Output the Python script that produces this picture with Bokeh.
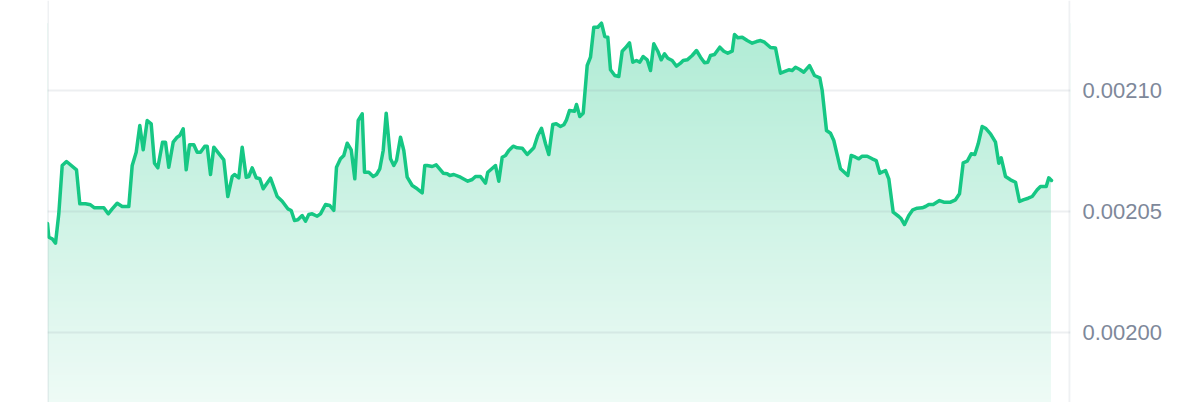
import numpy as np
from bokeh.plotting import figure
from bokeh.models import Range1d, FixedTicker, PrintfTickFormatter, Span
from bokeh.embed import file_html
from bokeh.resources import INLINE

# time offset (minutes from start of the window)
minutes = [
    0, 1.3, 4.7, 8, 11.3, 14.7, 19, 29, 32.3, 38, 43, 47, 56.3, 60.7, 64.7, 69.7, 74.7, 81.3, 84.7, 88.7,
    92.3, 95.7, 99.7, 103.7, 107, 110.3, 115, 118, 121.3, 125.7, 129.7, 132.3, 135.7, 138.7, 142, 146.3,
    149.7, 153, 157.3, 159.7, 163, 166.3,
    176.3, 180.3, 184.7, 187, 191.3, 194.7, 198.7, 201.3, 204.7, 208.7, 212.3, 215.7, 223, 229.7, 234.7,
    240.3, 243.7, 247, 250.3, 254.7, 258, 261.3, 264.7, 269.7, 273, 278, 282.3, 286.3, 289, 293, 296.3,
    299.7, 303.7, 307.3, 310.7, 314.7, 317, 321.3, 325.7, 329, 332.3, 335.7, 338.7,
    343, 346.3, 349, 353, 356.3, 359.7, 364.7, 369.7, 374.7, 377.3, 379.7, 384.7, 388.7, 395.7, 399.7,
    402.3, 406.3, 413, 420.3, 424.7, 428, 433, 438, 440.3, 448, 451.3, 454.7, 458, 461.3, 465.7, 469.7,
    474.7, 479.7, 486.3, 490.3, 494, 498, 501.3, 505.3, 508.7, 513, 516.3, 519, 522,
    527, 529, 532.3, 535.7, 539.7, 543, 546.3, 550.3, 554, 557.3, 560.3, 563, 567.3, 571.3, 574.7, 578,
    582, 585.3, 589, 592.3, 595.7, 599.7, 603, 606.3, 610.3, 613.7, 617, 620.3, 624.7, 629, 633, 635.7,
    639.7, 644.7, 649, 653, 657, 660.3, 663, 667, 672.3, 676.3, 680.3, 684.7, 687, 690.3, 694.7, 699.7,
    704.7, 709, 713, 717, 723, 728,
    733, 738, 741.3, 744.7, 748, 752.3, 756.3, 762, 767, 772.3, 774.7, 779, 783, 786.3, 793, 800.3, 803.7,
    808, 811.3, 814.7, 819.7, 824.7, 828.7, 832.3, 838, 841.3,
    845.7, 851.3, 853.7, 857, 861.3, 865.3, 869.7, 874.7, 878, 881.3, 885.7, 892, 896.3, 903, 908, 912,
    915.7, 919.7, 923.7, 927.3, 930.7, 934.7, 938, 943, 948, 951.3, 953.7, 958, 963, 968, 972, 975.7,
    980.7, 984.7, 989.7, 993, 998.7, 1001.3, 1004,
]

price = [
    0.00204493, 0.00203925, 0.00203859, 0.00203677, 0.00204894, 0.00206894, 0.00207060, 0.00206716,
    0.00205309, 0.00205309, 0.00205267, 0.00205143, 0.00205143, 0.00204894, 0.00205101, 0.00205333,
    0.00205197, 0.00205197, 0.00206894, 0.00207445, 0.00208551, 0.00207545, 0.00208758, 0.00208621,
    0.00206990, 0.00206799, 0.00207859, 0.00207859, 0.00206824, 0.00207859, 0.00208066, 0.00208137,
    0.00208414, 0.00206716, 0.00207752, 0.00207752, 0.00207445, 0.00207445, 0.00207694, 0.00207694,
    0.00206522, 0.00207652,
    0.00207130, 0.00205611, 0.00206439, 0.00206522, 0.00206385, 0.00207652, 0.00206410, 0.00206439,
    0.00206799, 0.00206385, 0.00206344, 0.00205930, 0.00206369, 0.00205611, 0.00205416, 0.00205101,
    0.00205031, 0.00204617, 0.00204646, 0.00204824, 0.00204588, 0.00204865, 0.00204894, 0.00204795,
    0.00204894, 0.00205280, 0.00205238, 0.00205031, 0.00206824, 0.00207172, 0.00207309, 0.00207818,
    0.00207545, 0.00206344, 0.00208758, 0.00209035, 0.00206617, 0.00206617, 0.00206439, 0.00206522,
    0.00206758, 0.00207516, 0.00209060,
    0.00207172, 0.00206894, 0.00207101, 0.00208066, 0.00207516, 0.00206410, 0.00206066, 0.00205930,
    0.00205764, 0.00206894, 0.00206894, 0.00206853, 0.00206923, 0.00206576, 0.00206551, 0.00206480,
    0.00206522, 0.00206410, 0.00206244, 0.00206315, 0.00206439, 0.00206439, 0.00206161, 0.00206617,
    0.00206894, 0.00206244, 0.00207238, 0.00207309, 0.00207516, 0.00207694, 0.00207627, 0.00207611,
    0.00207350, 0.00207627, 0.00208137, 0.00208439, 0.00207793, 0.00207350, 0.00208592, 0.00208621,
    0.00208509, 0.00208580, 0.00208787, 0.00209172,
    0.00209143, 0.00209420, 0.00208923, 0.00209060, 0.00211035, 0.00211379, 0.00212621, 0.00212621,
    0.00212787, 0.00212236, 0.00212207, 0.00210857, 0.00210621, 0.00210580, 0.00211627, 0.00211768,
    0.00211975, 0.00211172, 0.00211242, 0.00211172, 0.00211408, 0.00211271, 0.00210828, 0.00211934,
    0.00211627, 0.00211271, 0.00211520, 0.00211338, 0.00211242, 0.00211006, 0.00211130, 0.00211242,
    0.00211271, 0.00211449, 0.00211656, 0.00211379, 0.00211147, 0.00211172, 0.00211449, 0.00211491,
    0.00211793, 0.00211627, 0.00211545, 0.00211627, 0.00212319, 0.00212182, 0.00212207, 0.00212070,
    0.00211959, 0.00212029, 0.00212070, 0.00212000, 0.00211781, 0.00211760,
    0.00210716, 0.00210799, 0.00210857, 0.00210828, 0.00210965, 0.00210870, 0.00210758, 0.00211035,
    0.00210621, 0.00210526, 0.00210000, 0.00208344, 0.00208232, 0.00207930, 0.00206758, 0.00206480,
    0.00207309, 0.00207238, 0.00207172, 0.00207280, 0.00207280, 0.00207172, 0.00207101, 0.00206576,
    0.00206687, 0.00206344,
    0.00204961, 0.00204783, 0.00204687, 0.00204451, 0.00204824, 0.00205060, 0.00205126, 0.00205143,
    0.00205197, 0.00205280, 0.00205280, 0.00205445, 0.00205375, 0.00205375, 0.00205474, 0.00205723,
    0.00207006, 0.00207072, 0.00207379, 0.00207350, 0.00207793, 0.00208509, 0.00208439, 0.00208207,
    0.00207859, 0.00206990, 0.00207213, 0.00206439, 0.00206302, 0.00206203, 0.00205404, 0.00205474,
    0.00205540, 0.00205611, 0.00205888, 0.00206025, 0.00206025, 0.00206385, 0.00206273,
]

tick_values = [0.00200, 0.00205, 0.00210]

X_END = 1023
Y_LOW = 0.00197081
Y_HIGH = 0.00213727

GREEN = (22, 199, 132)

p = figure(
    width=1200, height=402,
    output_backend="svg", toolbar_location=None,
    x_range=Range1d(0, X_END), y_range=Range1d(Y_LOW, Y_HIGH),
    x_axis_location=None, y_axis_location="right",
    min_border_left=47, min_border_right=130, min_border_top=0, min_border_bottom=0,
    background_fill_color="white", border_fill_color="white",
)
p.outline_line_color = None
p.xgrid.visible = False

# gradient fill image (opaque colours blended with white)
N = 256
img = np.empty((N, 2), dtype=np.uint32)
view = img.view(dtype=np.uint8).reshape((N, 2, 4))
frac = np.linspace(0.0, 1.0, N)
alpha = 0.07 + frac * (0.34 - 0.07)
for k in range(3):
    view[:, :, k] = (255 - alpha * (255 - GREEN[k]))[:, None].astype(np.uint8)
view[:, :, 3] = 255
top_val = max(price)
p.image_rgba(image=[img], x=0, y=Y_LOW, dw=X_END, dh=top_val - Y_LOW, level="image")

# white mask above the line, and right of the last data point
p.varea(x=minutes, y1=price, y2=[Y_HIGH] * len(price), fill_color="white", level="image")
p.quad(left=minutes[-1] - 0.6, right=X_END + 5, bottom=Y_LOW - 1e-5, top=Y_HIGH + 1e-5,
       fill_color="white", line_color=None, level="image")

# grid
p.ygrid.ticker = FixedTicker(ticks=tick_values)
p.ygrid.grid_line_color = "#8f9bab"
p.ygrid.grid_line_alpha = 0.16
p.ygrid.grid_line_width = 2

for loc in (0.5, X_END - 1):
    p.add_layout(Span(location=loc, dimension="height", line_color="#8f9bab",
                      line_alpha=0.14, line_width=2, level="underlay"))

# line
p.line(minutes, price, line_color="#16c784", line_width=3.5, line_join="round", line_cap="round")

ax = p.yaxis[0]
ax.ticker = FixedTicker(ticks=tick_values)
ax.formatter = PrintfTickFormatter(format="%.5f")
ax.axis_line_color = None
ax.major_tick_line_color = None
ax.minor_tick_line_color = None
ax.major_tick_out = 0
ax.major_tick_in = 0
ax.major_label_standoff = 12
ax.major_label_text_font = "Liberation Sans"
ax.major_label_text_font_size = "22px"
ax.major_label_text_color = "#7e889a"

open("out.html", "w").write(file_html(p, INLINE))
